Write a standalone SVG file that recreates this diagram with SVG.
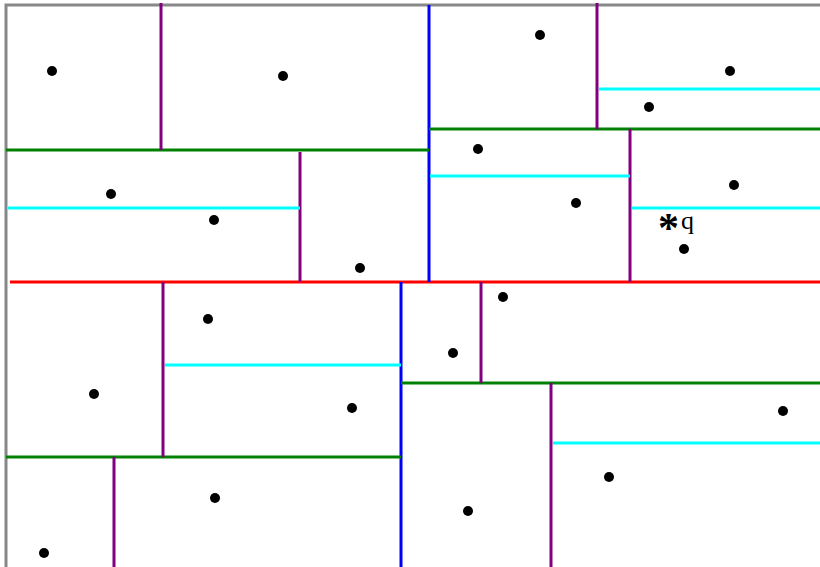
<svg xmlns="http://www.w3.org/2000/svg" width="820" height="567" viewBox="0 0 820 567">
<style>
.b{fill:none;stroke:#888;stroke-width:3}
line{stroke-width:3}
.r{stroke:#f00}.bl{stroke:#00f}.g{stroke:#008000}.p{stroke:#800080}.c{stroke:#0ff}
circle{fill:#000}
text{font-family:"Liberation Serif",serif;fill:#000}
</style>
<rect width="820" height="567" fill="#fff"/>
<rect class="b" x="6" y="5" width="830" height="580"/>
<g id="connectors">
<line class="r" x1="10" y1="282" x2="820" y2="282"/>
<line class="bl" x1="429" y1="5" x2="429" y2="282"/>
<line class="bl" x1="401" y1="282" x2="401" y2="567"/>
<line class="g" x1="6" y1="150" x2="429" y2="150"/>
<line class="g" x1="429" y1="129" x2="820" y2="129"/>
<line class="g" x1="6" y1="457" x2="401" y2="457"/>
<line class="g" x1="401" y1="383" x2="820" y2="383"/>
<line class="p" x1="161" y1="3" x2="161" y2="150"/>
<line class="p" x1="300" y1="152" x2="300" y2="282"/>
<line class="p" x1="597" y1="3" x2="597" y2="129"/>
<line class="p" x1="630" y1="129" x2="630" y2="282"/>
<line class="p" x1="163" y1="282" x2="163" y2="457"/>
<line class="p" x1="481" y1="282" x2="481" y2="383"/>
<line class="p" x1="114" y1="457" x2="114" y2="567"/>
<line class="p" x1="551" y1="383" x2="551" y2="567"/>
<line class="c" x1="8" y1="208" x2="300" y2="208"/>
<line class="c" x1="599" y1="89" x2="820" y2="89"/>
<line class="c" x1="430" y1="176" x2="630" y2="176"/>
<line class="c" x1="632" y1="208" x2="820" y2="208"/>
<line class="c" x1="165" y1="365" x2="401" y2="365"/>
<line class="c" x1="553" y1="443" x2="820" y2="443"/>
</g>
<g id="points">
<circle cx="52" cy="71" r="5"/><circle cx="283" cy="76" r="5"/><circle cx="540" cy="35" r="5"/>
<circle cx="730" cy="71" r="5"/><circle cx="649" cy="107" r="5"/><circle cx="478" cy="149" r="5"/>
<circle cx="111" cy="194" r="5"/><circle cx="214" cy="220" r="5"/><circle cx="576" cy="203" r="5"/>
<circle cx="734" cy="185" r="5"/><circle cx="684" cy="249" r="5"/><circle cx="360" cy="268" r="5"/>
<circle cx="503" cy="297" r="5"/><circle cx="208" cy="319" r="5"/><circle cx="453" cy="353" r="5"/>
<circle cx="94" cy="394" r="5"/><circle cx="352" cy="408" r="5"/><circle cx="783" cy="411" r="5"/>
<circle cx="609" cy="477" r="5"/><circle cx="215" cy="498" r="5"/><circle cx="468" cy="511" r="5"/>
<circle cx="44" cy="553" r="5"/>
</g>
<g id="q">
<text x="658" y="242" font-size="42" font-weight="bold">*</text>
<text x="681" y="229" font-size="26">q</text>
</g>
</svg>
